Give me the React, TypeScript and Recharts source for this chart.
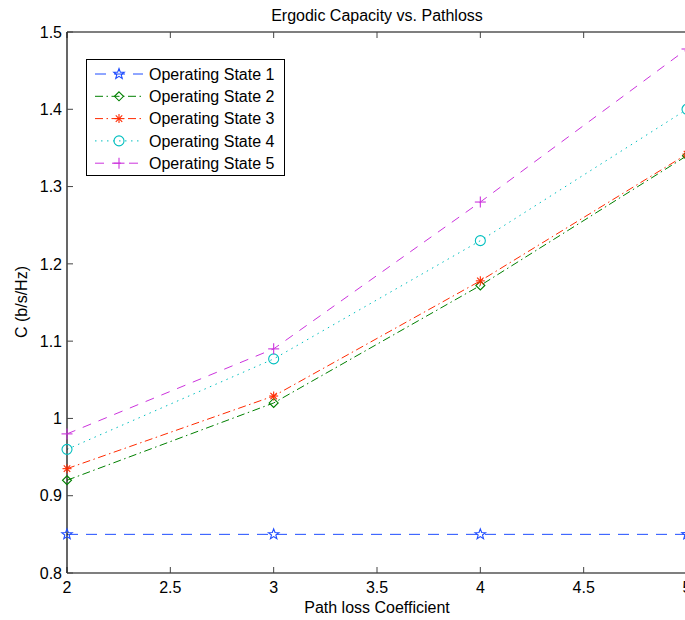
import { LineChart, Line, XAxis, YAxis } from "recharts";

// path loss coefficient (x) and ergodic capacity per operating state
const pathLoss = [2, 3, 4, 5];
const state1 = [0.85, 0.85, 0.85, 0.85];
const state2 = [0.92, 1.02, 1.172, 1.34];
const state3 = [0.935, 1.029, 1.178, 1.342];
const state4 = [0.96, 1.077, 1.23, 1.4];
const state5 = [0.98, 1.09, 1.28, 1.478];

const seriesNames = [
  "Operating State 1",
  "Operating State 2",
  "Operating State 3",
  "Operating State 4",
  "Operating State 5",
];
const xTicks = [2, 2.5, 3, 3.5, 4, 4.5, 5];
const yTicks = [0.8, 0.9, 1, 1.1, 1.2, 1.3, 1.4, 1.5];

const FONT = "'Liberation Sans', Arial, Helvetica, sans-serif";
const FS = 16;

type MarkerKind = "star" | "diamond" | "asterisk" | "circle" | "plus";

const series: { key: string; color: string; dash: string; marker: MarkerKind }[] = [
  { key: "s1", color: "#1f4dff", dash: "11 8", marker: "star" },
  { key: "s2", color: "#008000", dash: "8 3.5 1.5 3.5", marker: "diamond" },
  { key: "s3", color: "#ff2a00", dash: "8 3.5 1.5 3.5", marker: "asterisk" },
  { key: "s4", color: "#00bfbf", dash: "1.5 4.5", marker: "circle" },
  { key: "s5", color: "#cc33dd", dash: "9 8", marker: "plus" },
];

const allStates = [state1, state2, state3, state4, state5];

const data = pathLoss.map((x, i) => {
  const row: Record<string, number> = { x };
  series.forEach((s, j) => {
    row[s.key] = allStates[j][i];
  });
  return row;
});

function Marker({ kind, cx, cy, color }: { kind: MarkerKind; cx: number; cy: number; color: string }) {
  const common = { fill: "none", stroke: color, strokeWidth: 1.1 };
  if (kind === "star") {
    const pts: string[] = [];
    for (let k = 0; k < 10; k++) {
      const r = k % 2 === 0 ? 5.5 : 2.3;
      const a = -Math.PI / 2 + (k * Math.PI) / 5;
      pts.push(`${cx + r * Math.cos(a)},${cy + r * Math.sin(a)}`);
    }
    return <polygon points={pts.join(" ")} {...common} />;
  }
  if (kind === "diamond") {
    const d = 4.5;
    return (
      <polygon
        points={`${cx},${cy - d} ${cx + d},${cy} ${cx},${cy + d} ${cx - d},${cy}`}
        {...common}
      />
    );
  }
  if (kind === "asterisk") {
    const d = 4.5;
    const e = d * 0.72;
    return (
      <g {...common}>
        <line x1={cx - d} y1={cy} x2={cx + d} y2={cy} />
        <line x1={cx} y1={cy - d} x2={cx} y2={cy + d} />
        <line x1={cx - e} y1={cy - e} x2={cx + e} y2={cy + e} />
        <line x1={cx - e} y1={cy + e} x2={cx + e} y2={cy - e} />
      </g>
    );
  }
  if (kind === "circle") {
    return <circle cx={cx} cy={cy} r={5} {...common} />;
  }
  const d = 5.5;
  return (
    <g {...common}>
      <line x1={cx - d} y1={cy} x2={cx + d} y2={cy} />
      <line x1={cx} y1={cy - d} x2={cx} y2={cy + d} />
    </g>
  );
}

const fmt = (v: number) => String(Number(v.toFixed(1)));

export default function App() {
  return (
    <div style={{ position: "absolute", left: 0, top: 0, width: 685, height: 620, overflow: "hidden", background: "#fff" }}>
      <LineChart
        width={695}
        height={620}
        data={data}
        margin={{ top: 0, right: 0, bottom: 0, left: 0 }}
        style={{ fontFamily: FONT }}
      >
        <XAxis
          dataKey="x"
          type="number"
          domain={[2, 5]}
          ticks={xTicks}
          height={47}
          tickSize={-6}
          tickMargin={15}
          tickFormatter={fmt}
          tick={{ fontSize: FS, fill: "#000" }}
          axisLine={{ stroke: "#000", strokeWidth: 1.2 }}
          tickLine={{ stroke: "#444" }}
        />
        <XAxis
          xAxisId="top"
          orientation="top"
          dataKey="x"
          type="number"
          domain={[2, 5]}
          ticks={xTicks}
          height={32}
          tickSize={-6}
          tick={() => <g />}
          axisLine={{ stroke: "#000", strokeWidth: 1.2 }}
          tickLine={{ stroke: "#444" }}
        />
        <YAxis
          type="number"
          domain={[0.8, 1.5]}
          ticks={yTicks}
          width={67}
          tickSize={-6}
          tickMargin={11}
          tickFormatter={fmt}
          tick={{ fontSize: FS, fill: "#000" }}
          axisLine={{ stroke: "#000", strokeWidth: 1.2 }}
          tickLine={{ stroke: "#444" }}
        />
        <YAxis
          yAxisId="right"
          orientation="right"
          type="number"
          domain={[0.8, 1.5]}
          ticks={yTicks}
          width={8}
          tickSize={-6}
          tick={() => <g />}
          axisLine={{ stroke: "#000", strokeWidth: 1.2 }}
          tickLine={{ stroke: "#444" }}
        />
        {series.map((s) => (
          <Line
            key={s.key}
            dataKey={s.key}
            stroke={s.color}
            strokeWidth={1}
            strokeDasharray={s.dash}
            type="linear"
            isAnimationActive={false}
            dot={(p: any) => (
              <Marker key={`${s.key}-${p.index}`} kind={s.marker} cx={p.cx} cy={p.cy} color={s.color} />
            )}
            activeDot={false}
          />
        ))}
      </LineChart>

      <svg
        width={685}
        height={620}
        style={{ position: "absolute", left: 0, top: 0, pointerEvents: "none", fontFamily: FONT }}
      >
        <text x={377} y={21} textAnchor="middle" fontSize={FS} fill="#000">
          Ergodic Capacity vs. Pathloss
        </text>
        <text x={377} y={613} textAnchor="middle" fontSize={FS} fill="#000">
          Path loss Coefficient
        </text>
        <text
          x={0}
          y={0}
          transform="translate(27,302) rotate(-90)"
          textAnchor="middle"
          fontSize={FS}
          fill="#000"
        >
          C (b/s/Hz)
        </text>

        {/* legend */}
        <g transform="translate(86,59)">
          <rect x={0.5} y={0.5} width={198} height={116} fill="#fff" stroke="#000" strokeWidth={1} />
          {series.map((s, i) => {
            const y = 15 + i * 22.3;
            return (
              <g key={s.key}>
                <line x1={9} y1={y} x2={57} y2={y} stroke={s.color} strokeWidth={1} strokeDasharray={s.dash} />
                <Marker kind={s.marker} cx={33} cy={y} color={s.color} />
                <text x={63} y={y + 5.7} fontSize={FS} fill="#000">
                  {seriesNames[i]}
                </text>
              </g>
            );
          })}
        </g>
      </svg>
    </div>
  );
}
